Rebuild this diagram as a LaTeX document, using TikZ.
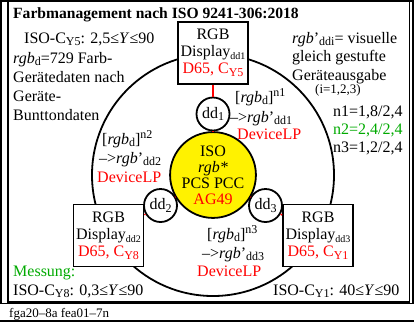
\documentclass[tikz,border=0pt]{standalone}
\usepackage{fontspec}
\setmainfont{Liberation Serif}
\definecolor{mygreen}{RGB}{0,170,0}
\newcommand{\lo}[1]{\raisebox{-0.35ex}{\fontsize{12}{12}\selectfont #1}}
\newcommand{\hi}[1]{\raisebox{0.8ex}{\fontsize{12}{12}\selectfont #1}}
\newcommand{\slo}[1]{\raisebox{-0.35ex}{\fontsize{10}{10}\selectfont #1}}
\begin{document}
\begin{tikzpicture}[x=1pt,y=-1pt,
  every node/.style={inner sep=0pt, font=\fontsize{16}{17}\selectfont},
  txt/.style={anchor=base west},
  frame/.style={line width=1.5pt},
  devbox/.style={draw, line width=1.8pt, fill=white, minimum width=70pt, minimum height=62pt, align=center, font=\fontsize{16}{17}\selectfont},
  ddc/.style={circle, draw, line width=1.8pt, fill=white, minimum size=33pt},
  link/.style={red, line width=1.5pt}]
\useasboundingbox (0,0) rectangle (414,322);
% frames
\draw[frame] (1,0.75) rectangle (413,303.5);
\draw[frame] (8,0.75) rectangle (409.5,302);
\draw[frame] (0,321) -- (414,321);
% title
\node[txt, font=\bfseries\fontsize{15.6}{17}\selectfont] (title) at (13,18) {Farbmanagement nach ISO 9241-306:2018};
% ring
\node[circle, draw, line width=1.8pt, minimum size=242pt] (ring) at (213,175) {};
% devices
\node[devbox] (box1) at (213,53) {RGB\\Display\slo{dd1}\\\textcolor{red}{D65, C\lo{Y5}}};
\node[devbox] (box2) at (108.5,235.5) {RGB\\Display\slo{dd2}\\\textcolor{red}{D65, C\lo{Y8}}};
\node[devbox] (box3) at (318,235.5) {RGB\\Display\slo{dd3}\\\textcolor{red}{D65, C\lo{Y1}}};
% small circles
\node[ddc] (dd1) at (213,114) {dd\lo{1}};
\node[ddc] (dd2) at (160.5,205.5) {dd\lo{2}};
\node[ddc] (dd3) at (265.5,205.5) {dd\lo{3}};
% center
\node[circle, draw, line width=1.8pt, fill=yellow, minimum size=77pt, align=center, font=\fontsize{16}{16}\selectfont] (pcs) at (213,175) {ISO\\\textit{rgb*}\\PCS PCC\\\textcolor{red}{AG49}};
% links
\draw[link] (box1) -- (dd1);
\draw[link] (dd1) -- (pcs);
\draw[link] (box2) -- (dd2);
\draw[link] (dd2) -- (pcs);
\draw[link] (box3) -- (dd3);
\draw[link] (dd3) -- (pcs);
% labels at links
\node[txt] (l1a) at (235,102) {[\textit{rgb}\lo{d}]\hi{n1}};
\node[txt] (l1b) at (230,122) {–>\textit{rgb}'\lo{dd1}};
\node[txt, red] (l1c) at (237,139) {DeviceLP};
\node[txt] (l2a) at (102,144) {[\textit{rgb}\lo{d}]\hi{n2}};
\node[txt] (l2b) at (99,163) {–>\textit{rgb}'\lo{dd2}};
\node[txt, red] (l2c) at (97,182) {DeviceLP};
\node[txt] (l3a) at (207,239) {[\textit{rgb}\lo{d}]\hi{n3}};
\node[txt] (l3b) at (202,258) {–>\textit{rgb}'\lo{dd3}};
\node[txt, red] (l3c) at (197,276) {DeviceLP};
% left text
\node[txt] (t1) at (24,43) {ISO-C\lo{Y5}: 2,5≤\textit{Y}≤90};
\node[txt] (t2) at (13,63) {\textit{rgb}\lo{d}=729 Farb-};
\node[txt] (t3) at (13,82) {Gerätedaten nach};
\node[txt] (t4) at (13,101) {Geräte-};
\node[txt] (t5) at (13,120) {Bunttondaten};
% right text
\node[txt] (r1) at (292,43) {\textit{rgb}'\lo{ddi}= visuelle};
\node[txt] (r2) at (292,61) {gleich gestufte};
\node[txt] (r3) at (292,80) {Geräteausgabe};
\node[txt, font=\fontsize{13}{14}\selectfont] (r4) at (315,93) {(i=1,2,3)};
\node[txt] (r5) at (333,116) {n1=1,8/2,4};
\node[txt, mygreen] (r6) at (333,134) {n2=2,4/2,4};
\node[txt] (r7) at (333,152) {n3=1,2/2,4};
% bottom text
\node[txt, mygreen] (m1) at (13,276) {Messung:};
\node[txt] (m2) at (13,295) {ISO-C\lo{Y8}: 0,3≤\textit{Y}≤90};
\node[txt] (m3) at (273,295) {ISO-C\lo{Y1}: 40≤\textit{Y}≤90};
% footer
\node[txt, font=\fontsize{13}{14}\selectfont] (foot) at (9,317) {fga20–8a fea01–7n};
\end{tikzpicture}
\end{document}
